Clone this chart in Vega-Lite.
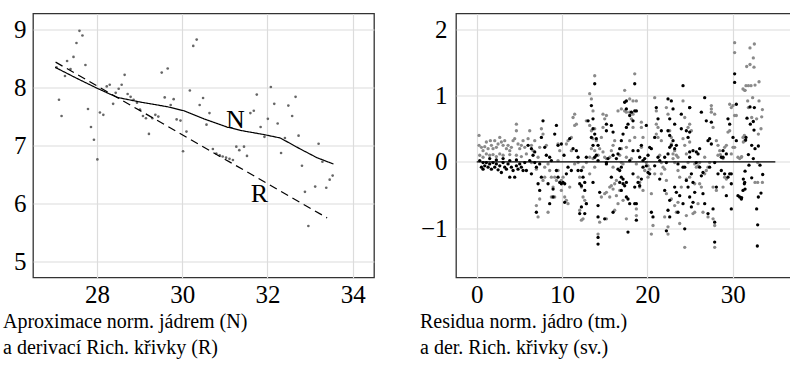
{
"$schema": "https://vega.github.io/schema/vega-lite/v6.json",
"padding": {"left": 2, "top": 12.5, "right": 0, "bottom": 0},
"spacing": 44,
"config": {
 "font": "'Liberation Serif', 'DejaVu Serif', serif",
 "view": {"stroke": "#333333", "strokeWidth": 1.3},
 "axis": {"grid": true, "gridColor": "#dcdcdc", "gridWidth": 1.2, "domain": false, "ticks": false, "labelFont": "'Liberation Serif', 'DejaVu Serif', serif", "labelFontSize": 25, "labelColor": "#000000", "labelFlush": false},
 "axisX": {"labelPadding": 5},
 "axisY": {"labelPadding": 7},
 "title": {"font": "'Liberation Serif', 'DejaVu Serif', serif", "fontSize": 20, "fontWeight": "normal", "color": "#000000", "lineHeight": 26},
 "text": {"font": "'Liberation Serif', 'DejaVu Serif', serif"}
},
"datasets": {
 "pts": [
  {"x":27.05,"y":8.35},{"x":27.11,"y":7.79},{"x":27.17,"y":7.51},{"x":27.25,"y":8.20},{"x":27.30,"y":8.46},{"x":27.38,"y":8.32},{"x":27.45,"y":8.53},{"x":27.52,"y":8.77},{"x":27.59,"y":8.98},{"x":27.66,"y":8.90},{"x":27.73,"y":8.39},{"x":27.79,"y":7.63},{"x":27.86,"y":7.32},{"x":27.93,"y":7.10},{"x":28.01,"y":6.76},{"x":28.07,"y":7.57},{"x":28.15,"y":7.53},{"x":28.23,"y":8.02},{"x":28.30,"y":8.05},{"x":28.38,"y":7.72},{"x":28.44,"y":7.91},{"x":28.51,"y":7.98},{"x":28.58,"y":8.05},{"x":28.65,"y":8.22},{"x":28.72,"y":7.89},{"x":28.79,"y":7.84},{"x":28.86,"y":7.79},{"x":28.94,"y":7.74},{"x":29.01,"y":7.62},{"x":29.08,"y":7.51},{"x":29.15,"y":7.47},{"x":29.22,"y":7.20},{"x":29.30,"y":7.47},{"x":29.37,"y":7.53},{"x":29.44,"y":7.50},{"x":29.52,"y":8.26},{"x":29.59,"y":7.83},{"x":29.66,"y":8.33},{"x":29.73,"y":7.70},{"x":29.80,"y":7.80},{"x":29.87,"y":7.45},{"x":29.96,"y":7.43},{"x":30.02,"y":6.90},{"x":30.10,"y":7.24},{"x":30.18,"y":7.95},{"x":30.26,"y":8.72},{"x":30.34,"y":8.83},{"x":30.41,"y":7.70},{"x":30.49,"y":7.82},{"x":30.57,"y":7.36},{"x":30.64,"y":7.56},{"x":30.72,"y":6.94},{"x":30.80,"y":6.86},{"x":30.88,"y":6.83},{"x":30.95,"y":6.81},{"x":31.03,"y":6.79},{"x":31.11,"y":6.77},{"x":31.19,"y":6.75},{"x":31.27,"y":6.98},{"x":31.34,"y":6.92},{"x":31.45,"y":6.98},{"x":31.52,"y":6.82},{"x":31.60,"y":7.56},{"x":31.68,"y":7.60},{"x":31.75,"y":7.88},{"x":31.84,"y":7.32},{"x":31.93,"y":7.15},{"x":32.01,"y":7.46},{"x":32.08,"y":8.01},{"x":32.16,"y":7.72},{"x":32.24,"y":7.38},{"x":32.32,"y":6.87},{"x":32.41,"y":7.13},{"x":32.49,"y":7.69},{"x":32.58,"y":7.51},{"x":32.66,"y":7.84},{"x":32.73,"y":7.17},{"x":32.81,"y":6.65},{"x":32.88,"y":6.20},{"x":32.96,"y":5.61},{"x":33.12,"y":6.29},{"x":33.20,"y":7.03},{"x":33.29,"y":6.72},{"x":33.38,"y":6.27},{"x":33.46,"y":6.41},{"x":33.53,"y":6.48}
 ],
 "lines": [
  {"x":27.02,"y":8.35,"s":"N"},{"x":27.5,"y":8.17,"s":"N"},{"x":28.0,"y":7.99,"s":"N"},{"x":28.48,"y":7.83,"s":"N"},{"x":29.02,"y":7.75,"s":"N"},{"x":29.65,"y":7.67,"s":"N"},{"x":30.04,"y":7.60,"s":"N"},{"x":30.51,"y":7.46,"s":"N"},{"x":31.05,"y":7.32,"s":"N"},{"x":31.37,"y":7.26,"s":"N"},{"x":31.91,"y":7.19,"s":"N"},{"x":32.30,"y":7.13,"s":"N"},{"x":32.77,"y":6.94,"s":"N"},{"x":33.16,"y":6.79,"s":"N"},{"x":33.55,"y":6.68,"s":"N"},
  {"x":27.03,"y":8.44,"s":"R"},{"x":33.40,"y":5.75,"s":"R"}
 ],
 "labs": [
  {"x":31.25,"y":7.30,"t":"N"},{"x":31.81,"y":6.03,"t":"R"}
 ],
 "zero": [{"x0":0,"x1":35,"y":0}],
 "res": [
  {"x":0.27,"y":0.40,"c":"sv"},{"x":0.27,"y":0.25,"c":"sv"},{"x":0.55,"y":0.22,"c":"sv"},{"x":0.74,"y":0.17,"c":"sv"},{"x":0.94,"y":0.23,"c":"sv"},{"x":1.13,"y":0.30,"c":"sv"},{"x":1.33,"y":0.20,"c":"sv"},{"x":1.60,"y":0.32,"c":"sv"},{"x":1.72,"y":0.25,"c":"sv"},{"x":1.91,"y":0.20,"c":"sv"},{"x":2.11,"y":0.32,"c":"sv"},{"x":2.30,"y":0.22,"c":"sv"},{"x":2.50,"y":0.27,"c":"sv"},{"x":2.70,"y":0.37,"c":"sv"},{"x":2.89,"y":0.30,"c":"sv"},{"x":3.09,"y":0.25,"c":"sv"},{"x":3.28,"y":0.32,"c":"sv"},{"x":3.48,"y":0.20,"c":"sv"},{"x":3.67,"y":0.25,"c":"sv"},{"x":3.87,"y":0.17,"c":"sv"},{"x":4.06,"y":0.22,"c":"sv"},{"x":4.26,"y":0.32,"c":"sv"},{"x":4.45,"y":0.35,"c":"sv"},{"x":4.65,"y":0.57,"c":"sv"},{"x":4.65,"y":0.47,"c":"sv"},{"x":4.84,"y":0.27,"c":"sv"},{"x":5.04,"y":0.20,"c":"sv"},{"x":5.23,"y":0.25,"c":"sv"},{"x":5.43,"y":0.32,"c":"sv"},{"x":5.63,"y":0.22,"c":"sv"},{"x":0.35,"y":0.10,"c":"sv"},{"x":0.74,"y":0.07,"c":"sv"},{"x":1.13,"y":0.12,"c":"sv"},{"x":1.52,"y":0.10,"c":"sv"},{"x":1.91,"y":0.11,"c":"sv"},{"x":2.30,"y":0.08,"c":"sv"},{"x":2.70,"y":0.12,"c":"sv"},{"x":3.09,"y":0.10,"c":"sv"},{"x":3.87,"y":0.11,"c":"sv"},{"x":4.65,"y":0.10,"c":"sv"},{"x":5.23,"y":0.08,"c":"sv"},
  {"x":6.21,"y":0.47,"c":"sv"},{"x":6.02,"y":0.35,"c":"sv"},{"x":6.41,"y":0.25,"c":"sv"},{"x":6.80,"y":0.32,"c":"sv"},{"x":6.60,"y":0.17,"c":"sv"},{"x":7.58,"y":0.50,"c":"sv"},{"x":7.77,"y":0.42,"c":"sv"},{"x":7.38,"y":0.22,"c":"sv"},{"x":7.19,"y":0.07,"c":"sv"},{"x":8.16,"y":0.25,"c":"sv"},{"x":7.97,"y":-0.08,"c":"sv"},{"x":8.36,"y":-0.03,"c":"sv"},{"x":8.55,"y":-0.13,"c":"sv"},{"x":8.75,"y":-0.23,"c":"sv"},{"x":8.95,"y":-0.38,"c":"sv"},{"x":9.14,"y":-0.53,"c":"sv"},{"x":9.34,"y":-0.28,"c":"sv"},{"x":9.53,"y":0.27,"c":"sv"},{"x":9.73,"y":0.17,"c":"sv"},{"x":9.53,"y":-0.13,"c":"sv"},{"x":9.92,"y":-0.43,"c":"sv"},{"x":10.31,"y":-0.53,"c":"sv"},{"x":10.70,"y":-0.63,"c":"sv"},{"x":10.51,"y":0.27,"c":"sv"},{"x":10.70,"y":0.32,"c":"sv"},{"x":11.09,"y":0.37,"c":"sv"},{"x":11.29,"y":0.67,"c":"sv"},{"x":11.48,"y":0.72,"c":"sv"},{"x":11.48,"y":0.55,"c":"sv"},{"x":11.68,"y":0.57,"c":"sv"},{"x":11.09,"y":0.17,"c":"sv"},{"x":11.48,"y":-0.03,"c":"sv"},{"x":11.88,"y":-0.01,"c":"sv"},{"x":12.07,"y":-0.23,"c":"sv"},{"x":12.07,"y":-0.73,"c":"sv"},{"x":6.99,"y":-0.66,"c":"sv"},{"x":7.38,"y":-0.56,"c":"sv"},{"x":7.19,"y":-0.83,"c":"sv"},{"x":8.36,"y":-0.76,"c":"sv"},{"x":8.75,"y":-0.53,"c":"sv"},{"x":7.97,"y":-0.23,"c":"sv"},{"x":9.14,"y":-0.23,"c":"sv"},{"x":9.53,"y":0.02,"c":"sv"},{"x":9.92,"y":-0.28,"c":"sv"},{"x":10.51,"y":-0.58,"c":"sv"},{"x":5.82,"y":0.12,"c":"sv"},{"x":6.41,"y":-0.01,"c":"sv"},{"x":6.99,"y":-0.11,"c":"sv"},{"x":7.77,"y":-0.28,"c":"sv"},{"x":10.12,"y":-0.23,"c":"sv"},{"x":10.90,"y":-0.38,"c":"sv"},
  {"x":13.83,"y":1.30,"c":"sv"},{"x":13.24,"y":1.03,"c":"sv"},{"x":13.44,"y":0.95,"c":"sv"},{"x":13.63,"y":0.77,"c":"sv"},{"x":12.85,"y":0.62,"c":"sv"},{"x":13.24,"y":0.55,"c":"sv"},{"x":13.83,"y":0.50,"c":"sv"},{"x":13.44,"y":0.47,"c":"sv"},{"x":13.63,"y":0.35,"c":"sv"},{"x":14.02,"y":0.32,"c":"sv"},{"x":13.83,"y":0.17,"c":"sv"},{"x":13.44,"y":0.20,"c":"sv"},{"x":13.24,"y":0.07,"c":"sv"},{"x":12.85,"y":-0.01,"c":"sv"},{"x":12.46,"y":-0.08,"c":"sv"},{"x":12.27,"y":-0.38,"c":"sv"},{"x":12.46,"y":-0.53,"c":"sv"},{"x":12.66,"y":-0.58,"c":"sv"},{"x":12.85,"y":-0.63,"c":"sv"},{"x":12.27,"y":-0.88,"c":"sv"},{"x":12.46,"y":-0.86,"c":"sv"},{"x":14.80,"y":0.72,"c":"sv"},{"x":15.00,"y":0.65,"c":"sv"},{"x":15.20,"y":0.70,"c":"sv"},{"x":14.80,"y":0.52,"c":"sv"},{"x":14.61,"y":0.37,"c":"sv"},{"x":14.41,"y":0.20,"c":"sv"},{"x":14.80,"y":0.15,"c":"sv"},{"x":15.00,"y":0.07,"c":"sv"},{"x":15.20,"y":0.05,"c":"sv"},{"x":15.59,"y":0.07,"c":"sv"},{"x":15.78,"y":0.17,"c":"sv"},{"x":15.98,"y":0.25,"c":"sv"},{"x":16.17,"y":0.32,"c":"sv"},{"x":16.56,"y":0.77,"c":"sv"},{"x":16.95,"y":0.80,"c":"sv"},{"x":17.34,"y":0.77,"c":"sv"},{"x":17.54,"y":0.75,"c":"sv"},{"x":17.93,"y":0.75,"c":"sv"},{"x":18.13,"y":0.65,"c":"sv"},{"x":18.32,"y":0.72,"c":"sv"},{"x":17.34,"y":1.08,"c":"sv"},{"x":18.52,"y":1.33,"c":"sv"},{"x":17.93,"y":0.95,"c":"sv"},{"x":18.32,"y":0.92,"c":"sv"},{"x":18.32,"y":0.52,"c":"sv"},{"x":18.52,"y":0.37,"c":"sv"},{"x":17.93,"y":0.32,"c":"sv"},{"x":17.54,"y":0.22,"c":"sv"},{"x":16.95,"y":0.20,"c":"sv"},{"x":16.76,"y":0.10,"c":"sv"},{"x":16.95,"y":-0.01,"c":"sv"},{"x":17.15,"y":-0.03,"c":"sv"},{"x":17.54,"y":0.07,"c":"sv"},{"x":18.13,"y":0.05,"c":"sv"},{"x":15.98,"y":-0.08,"c":"sv"},{"x":15.78,"y":-0.36,"c":"sv"},{"x":15.59,"y":-0.38,"c":"sv"},{"x":16.17,"y":-0.33,"c":"sv"},{"x":16.37,"y":-0.28,"c":"sv"},{"x":15.00,"y":-0.48,"c":"sv"},{"x":14.61,"y":-0.53,"c":"sv"},{"x":15.20,"y":-0.46,"c":"sv"},{"x":15.59,"y":-0.53,"c":"sv"},{"x":16.17,"y":-0.73,"c":"sv"},{"x":16.56,"y":-0.63,"c":"sv"},{"x":17.15,"y":-0.58,"c":"sv"},{"x":17.54,"y":-0.86,"c":"sv"},{"x":15.20,"y":-0.86,"c":"sv"},{"x":14.41,"y":-0.91,"c":"sv"},{"x":14.22,"y":-1.09,"c":"sv"},{"x":15.98,"y":-0.41,"c":"sv"},{"x":16.37,"y":-0.51,"c":"sv"},{"x":16.76,"y":-0.43,"c":"sv"},{"x":14.22,"y":0.10,"c":"sv"},{"x":13.83,"y":-0.08,"c":"sv"},{"x":13.24,"y":-0.18,"c":"sv"},{"x":13.63,"y":0.05,"c":"sv"},
  {"x":18.71,"y":0.92,"c":"sv"},{"x":19.30,"y":0.60,"c":"sv"},{"x":19.30,"y":0.52,"c":"sv"},{"x":19.49,"y":0.37,"c":"sv"},{"x":19.30,"y":0.22,"c":"sv"},{"x":18.71,"y":-0.03,"c":"sv"},{"x":18.91,"y":-0.23,"c":"sv"},{"x":19.10,"y":-0.31,"c":"sv"},{"x":19.49,"y":-0.43,"c":"sv"},{"x":18.71,"y":-0.71,"c":"sv"},{"x":18.71,"y":-0.81,"c":"sv"},{"x":19.10,"y":-0.38,"c":"sv"},{"x":19.88,"y":-0.01,"c":"sv"},{"x":20.08,"y":-0.06,"c":"sv"},{"x":20.27,"y":-0.11,"c":"sv"},{"x":19.69,"y":-0.13,"c":"sv"},{"x":20.08,"y":-0.23,"c":"sv"},{"x":20.47,"y":-0.48,"c":"sv"},{"x":20.66,"y":-0.96,"c":"sv"},{"x":20.47,"y":-1.09,"c":"sv"},{"x":20.86,"y":-0.18,"c":"sv"},{"x":21.05,"y":0.77,"c":"sv"},{"x":21.05,"y":0.57,"c":"sv"},{"x":21.25,"y":0.52,"c":"sv"},{"x":21.05,"y":0.42,"c":"sv"},{"x":21.25,"y":0.37,"c":"sv"},{"x":21.64,"y":0.32,"c":"sv"},{"x":21.45,"y":0.10,"c":"sv"},{"x":21.64,"y":-0.01,"c":"sv"},{"x":21.84,"y":-0.08,"c":"sv"},{"x":21.64,"y":-0.18,"c":"sv"},{"x":22.03,"y":-0.11,"c":"sv"},{"x":22.23,"y":-0.28,"c":"sv"},{"x":22.23,"y":0.82,"c":"sv"},{"x":22.42,"y":0.72,"c":"sv"},{"x":22.62,"y":0.47,"c":"sv"},{"x":22.81,"y":0.37,"c":"sv"},{"x":22.81,"y":0.27,"c":"sv"},{"x":23.01,"y":0.12,"c":"sv"},{"x":23.20,"y":0.17,"c":"sv"},{"x":23.40,"y":0.10,"c":"sv"},{"x":23.01,"y":0.05,"c":"sv"},{"x":23.20,"y":-0.01,"c":"sv"},{"x":23.59,"y":0.07,"c":"sv"},{"x":23.59,"y":-0.13,"c":"sv"},{"x":23.79,"y":-0.23,"c":"sv"},{"x":23.98,"y":-0.38,"c":"sv"},{"x":23.59,"y":-0.61,"c":"sv"},{"x":23.20,"y":-0.66,"c":"sv"},{"x":23.40,"y":-0.76,"c":"sv"},{"x":23.79,"y":-0.93,"c":"sv"},{"x":22.42,"y":-0.98,"c":"sv"},{"x":22.42,"y":-1.09,"c":"sv"},{"x":24.18,"y":0.92,"c":"sv"},{"x":24.38,"y":0.67,"c":"sv"},{"x":24.18,"y":0.35,"c":"sv"},{"x":24.38,"y":0.25,"c":"sv"},{"x":24.57,"y":0.12,"c":"sv"},{"x":24.57,"y":-0.26,"c":"sv"},{"x":24.77,"y":0.52,"c":"sv"},{"x":24.77,"y":-0.01,"c":"sv"},{"x":24.96,"y":0.57,"c":"sv"},{"x":24.96,"y":0.30,"c":"sv"},{"x":24.38,"y":-1.29,"c":"sv"},{"x":24.57,"y":-0.81,"c":"sv"},{"x":22.03,"y":-0.83,"c":"sv"},{"x":22.81,"y":-0.56,"c":"sv"},{"x":22.23,"y":-0.48,"c":"sv"},{"x":20.86,"y":0.97,"c":"sv"},
  {"x":25.16,"y":0.47,"c":"sv"},{"x":25.55,"y":-0.03,"c":"sv"},{"x":25.74,"y":-0.08,"c":"sv"},{"x":25.94,"y":-0.06,"c":"sv"},{"x":26.13,"y":-0.33,"c":"sv"},{"x":26.33,"y":-0.38,"c":"sv"},{"x":26.72,"y":-0.18,"c":"sv"},{"x":26.91,"y":-0.13,"c":"sv"},{"x":27.11,"y":-0.08,"c":"sv"},{"x":27.30,"y":-0.01,"c":"sv"},{"x":27.50,"y":0.80,"c":"sv"},{"x":27.50,"y":0.85,"c":"sv"},{"x":27.50,"y":0.75,"c":"sv"},{"x":27.70,"y":0.52,"c":"sv"},{"x":27.89,"y":0.72,"c":"sv"},{"x":28.09,"y":0.32,"c":"sv"},{"x":28.28,"y":0.25,"c":"sv"},{"x":28.48,"y":0.17,"c":"sv"},{"x":28.28,"y":0.10,"c":"sv"},{"x":28.55,"y":0.11,"c":"sv"},{"x":28.87,"y":0.05,"c":"sv"},{"x":29.06,"y":0.22,"c":"sv"},{"x":29.26,"y":0.25,"c":"sv"},{"x":29.45,"y":0.45,"c":"sv"},{"x":29.65,"y":0.47,"c":"sv"},{"x":29.65,"y":0.87,"c":"sv"},{"x":29.84,"y":0.82,"c":"sv"},{"x":30.04,"y":0.85,"c":"sv"},{"x":30.23,"y":0.70,"c":"sv"},{"x":30.23,"y":1.80,"c":"sv"},{"x":30.23,"y":1.65,"c":"sv"},{"x":30.43,"y":0.70,"c":"sv"},{"x":29.84,"y":0.12,"c":"sv"},{"x":30.04,"y":0.22,"c":"sv"},{"x":30.23,"y":0.22,"c":"sv"},{"x":30.62,"y":0.07,"c":"sv"},{"x":30.82,"y":0.05,"c":"sv"},{"x":31.02,"y":0.07,"c":"sv"},{"x":31.21,"y":0.37,"c":"sv"},{"x":31.41,"y":0.32,"c":"sv"},{"x":31.21,"y":1.10,"c":"sv"},{"x":31.41,"y":1.08,"c":"sv"},{"x":25.35,"y":-0.78,"c":"sv"},{"x":25.55,"y":-0.76,"c":"sv"},{"x":25.94,"y":-0.63,"c":"sv"},{"x":26.52,"y":-0.76,"c":"sv"},{"x":27.11,"y":-0.83,"c":"sv"},{"x":27.70,"y":-0.86,"c":"sv"},{"x":27.89,"y":-0.96,"c":"sv"},{"x":27.70,"y":-0.38,"c":"sv"},{"x":28.09,"y":-0.43,"c":"sv"},{"x":28.87,"y":-0.38,"c":"sv"},{"x":29.06,"y":-0.23,"c":"sv"},{"x":29.26,"y":-0.26,"c":"sv"},{"x":26.72,"y":0.07,"c":"sv"},{"x":25.55,"y":-0.33,"c":"sv"},{"x":24.96,"y":-0.23,"c":"sv"},{"x":26.13,"y":-0.01,"c":"sv"},{"x":27.89,"y":-1.29,"c":"sv"},
  {"x":32.54,"y":1.78,"c":"sv"},{"x":32.03,"y":1.72,"c":"sv"},{"x":32.42,"y":1.57,"c":"sv"},{"x":31.64,"y":1.44,"c":"sv"},{"x":32.03,"y":1.47,"c":"sv"},{"x":32.50,"y":1.43,"c":"sv"},{"x":31.56,"y":1.15,"c":"sv"},{"x":31.84,"y":1.15,"c":"sv"},{"x":32.15,"y":1.15,"c":"sv"},{"x":32.62,"y":1.16,"c":"sv"},{"x":33.09,"y":1.21,"c":"sv"},{"x":31.45,"y":1.08,"c":"sv"},{"x":31.76,"y":0.92,"c":"sv"},{"x":33.09,"y":0.92,"c":"sv"},{"x":32.34,"y":0.97,"c":"sv"},{"x":33.48,"y":0.79,"c":"sv"},{"x":31.84,"y":0.82,"c":"sv"},{"x":32.23,"y":0.67,"c":"sv"},{"x":32.81,"y":0.65,"c":"sv"},{"x":33.40,"y":0.68,"c":"sv"},{"x":33.32,"y":0.50,"c":"sv"},{"x":33.01,"y":0.42,"c":"sv"},{"x":31.37,"y":0.40,"c":"sv"},{"x":31.25,"y":0.30,"c":"sv"},{"x":31.45,"y":0.32,"c":"sv"},{"x":31.05,"y":0.08,"c":"sv"},{"x":32.62,"y":-0.31,"c":"sv"},{"x":32.93,"y":-0.31,"c":"sv"},{"x":33.48,"y":-0.31,"c":"sv"},{"x":32.93,"y":-0.01,"c":"sv"},
  {"x":0.35,"y":0.02,"c":"tm"},{"x":0.55,"y":-0.08,"c":"tm"},{"x":0.74,"y":-0.11,"c":"tm"},{"x":0.94,"y":-0.06,"c":"tm"},{"x":1.13,"y":-0.01,"c":"tm"},{"x":1.33,"y":-0.08,"c":"tm"},{"x":1.52,"y":-0.03,"c":"tm"},{"x":1.72,"y":-0.11,"c":"tm"},{"x":1.91,"y":-0.01,"c":"tm"},{"x":2.11,"y":-0.08,"c":"tm"},{"x":2.30,"y":-0.03,"c":"tm"},{"x":2.50,"y":-0.12,"c":"tm"},{"x":2.70,"y":-0.06,"c":"tm"},{"x":2.89,"y":-0.16,"c":"tm"},{"x":3.09,"y":-0.01,"c":"tm"},{"x":3.28,"y":-0.08,"c":"tm"},{"x":3.48,"y":-0.11,"c":"tm"},{"x":3.67,"y":-0.03,"c":"tm"},{"x":3.87,"y":-0.23,"c":"tm"},{"x":4.06,"y":-0.08,"c":"tm"},{"x":4.26,"y":-0.13,"c":"tm"},{"x":4.45,"y":-0.23,"c":"tm"},{"x":4.65,"y":-0.06,"c":"tm"},{"x":4.84,"y":-0.11,"c":"tm"},{"x":5.04,"y":-0.03,"c":"tm"},{"x":5.23,"y":-0.08,"c":"tm"},{"x":5.43,"y":-0.13,"c":"tm"},{"x":5.63,"y":-0.01,"c":"tm"},{"x":0.74,"y":-0.01,"c":"tm"},{"x":1.52,"y":0.05,"c":"tm"},{"x":2.30,"y":0.03,"c":"tm"},{"x":3.09,"y":0.05,"c":"tm"},{"x":3.87,"y":0.02,"c":"tm"},{"x":4.65,"y":0.03,"c":"tm"},
  {"x":7.77,"y":0.62,"c":"tm"},{"x":9.34,"y":0.55,"c":"tm"},{"x":7.58,"y":0.37,"c":"tm"},{"x":9.14,"y":0.42,"c":"tm"},{"x":6.02,"y":0.25,"c":"tm"},{"x":6.41,"y":0.20,"c":"tm"},{"x":6.60,"y":0.10,"c":"tm"},{"x":6.21,"y":0.02,"c":"tm"},{"x":6.80,"y":-0.01,"c":"tm"},{"x":6.41,"y":-0.18,"c":"tm"},{"x":5.82,"y":-0.13,"c":"tm"},{"x":6.99,"y":-0.08,"c":"tm"},{"x":7.38,"y":-0.03,"c":"tm"},{"x":7.58,"y":-0.23,"c":"tm"},{"x":7.19,"y":-0.33,"c":"tm"},{"x":7.38,"y":-0.43,"c":"tm"},{"x":6.99,"y":-0.76,"c":"tm"},{"x":8.16,"y":0.10,"c":"tm"},{"x":8.55,"y":0.07,"c":"tm"},{"x":8.75,"y":0.02,"c":"tm"},{"x":8.36,"y":-0.33,"c":"tm"},{"x":8.95,"y":-0.41,"c":"tm"},{"x":9.34,"y":-0.13,"c":"tm"},{"x":9.53,"y":-0.23,"c":"tm"},{"x":9.73,"y":-0.31,"c":"tm"},{"x":9.92,"y":-0.33,"c":"tm"},{"x":10.12,"y":-0.31,"c":"tm"},{"x":10.31,"y":-0.33,"c":"tm"},{"x":10.51,"y":-0.18,"c":"tm"},{"x":10.23,"y":0.10,"c":"tm"},{"x":10.70,"y":-0.08,"c":"tm"},{"x":11.09,"y":-0.13,"c":"tm"},{"x":10.90,"y":0.35,"c":"tm"},{"x":11.29,"y":0.20,"c":"tm"},{"x":11.68,"y":0.17,"c":"tm"},{"x":11.88,"y":0.07,"c":"tm"},{"x":11.88,"y":-0.13,"c":"tm"},{"x":12.07,"y":-0.33,"c":"tm"},{"x":8.55,"y":-0.63,"c":"tm"},{"x":8.95,"y":-0.53,"c":"tm"},{"x":10.31,"y":-0.61,"c":"tm"},{"x":9.92,"y":0.27,"c":"tm"},{"x":9.53,"y":0.25,"c":"tm"},{"x":7.97,"y":0.22,"c":"tm"},{"x":6.80,"y":0.15,"c":"tm"},
  {"x":13.83,"y":1.18,"c":"tm"},{"x":13.44,"y":0.85,"c":"tm"},{"x":13.63,"y":0.65,"c":"tm"},{"x":13.05,"y":0.62,"c":"tm"},{"x":13.63,"y":0.50,"c":"tm"},{"x":13.83,"y":0.42,"c":"tm"},{"x":14.02,"y":0.35,"c":"tm"},{"x":13.44,"y":0.37,"c":"tm"},{"x":14.22,"y":0.25,"c":"tm"},{"x":13.63,"y":0.25,"c":"tm"},{"x":14.02,"y":0.10,"c":"tm"},{"x":13.83,"y":0.07,"c":"tm"},{"x":14.22,"y":0.02,"c":"tm"},{"x":12.85,"y":0.07,"c":"tm"},{"x":12.27,"y":-0.13,"c":"tm"},{"x":12.46,"y":-0.23,"c":"tm"},{"x":12.66,"y":-0.31,"c":"tm"},{"x":12.27,"y":-0.36,"c":"tm"},{"x":12.66,"y":-0.43,"c":"tm"},{"x":12.85,"y":-0.63,"c":"tm"},{"x":12.27,"y":-0.68,"c":"tm"},{"x":12.66,"y":-0.78,"c":"tm"},{"x":12.07,"y":-0.78,"c":"tm"},{"x":14.22,"y":-0.66,"c":"tm"},{"x":14.22,"y":-0.83,"c":"tm"},{"x":15.00,"y":-0.86,"c":"tm"},{"x":14.41,"y":-0.46,"c":"tm"},{"x":13.63,"y":-0.31,"c":"tm"},{"x":15.78,"y":-0.23,"c":"tm"},{"x":15.20,"y":-0.01,"c":"tm"},{"x":15.39,"y":0.05,"c":"tm"},{"x":15.98,"y":0.10,"c":"tm"},{"x":16.37,"y":0.05,"c":"tm"},{"x":16.56,"y":0.12,"c":"tm"},{"x":16.76,"y":0.20,"c":"tm"},{"x":16.95,"y":0.32,"c":"tm"},{"x":17.15,"y":0.42,"c":"tm"},{"x":17.54,"y":0.52,"c":"tm"},{"x":17.73,"y":0.57,"c":"tm"},{"x":17.93,"y":0.70,"c":"tm"},{"x":18.13,"y":0.75,"c":"tm"},{"x":17.34,"y":0.90,"c":"tm"},{"x":17.54,"y":0.92,"c":"tm"},{"x":17.54,"y":0.80,"c":"tm"},{"x":18.32,"y":0.62,"c":"tm"},{"x":18.52,"y":0.77,"c":"tm"},{"x":18.52,"y":1.18,"c":"tm"},{"x":16.76,"y":-0.13,"c":"tm"},{"x":16.95,"y":-0.23,"c":"tm"},{"x":17.15,"y":-0.26,"c":"tm"},{"x":17.15,"y":-0.33,"c":"tm"},{"x":16.76,"y":-0.31,"c":"tm"},{"x":17.34,"y":-0.36,"c":"tm"},{"x":16.95,"y":-0.43,"c":"tm"},{"x":17.73,"y":-0.56,"c":"tm"},{"x":17.93,"y":-0.63,"c":"tm"},{"x":18.32,"y":-0.18,"c":"tm"},{"x":18.52,"y":-0.38,"c":"tm"},{"x":15.20,"y":-0.03,"c":"tm"},{"x":15.98,"y":-0.76,"c":"tm"},{"x":17.73,"y":-1.06,"c":"tm"},{"x":14.22,"y":-1.14,"c":"tm"},{"x":14.22,"y":-1.24,"c":"tm"},{"x":17.54,"y":-0.53,"c":"tm"},{"x":16.56,"y":-0.11,"c":"tm"},{"x":16.95,"y":-0.08,"c":"tm"},{"x":18.52,"y":-0.63,"c":"tm"},{"x":17.54,"y":-0.31,"c":"tm"},{"x":17.93,"y":0.02,"c":"tm"},{"x":18.32,"y":0.17,"c":"tm"},{"x":15.98,"y":0.45,"c":"tm"},{"x":15.20,"y":0.47,"c":"tm"},{"x":15.78,"y":0.55,"c":"tm"},{"x":15.20,"y":0.57,"c":"tm"},
  {"x":18.71,"y":0.77,"c":"tm"},{"x":19.88,"y":0.55,"c":"tm"},{"x":19.30,"y":0.25,"c":"tm"},{"x":18.91,"y":0.17,"c":"tm"},{"x":19.10,"y":0.07,"c":"tm"},{"x":19.49,"y":0.02,"c":"tm"},{"x":19.69,"y":0.05,"c":"tm"},{"x":19.88,"y":-0.06,"c":"tm"},{"x":20.08,"y":0.10,"c":"tm"},{"x":20.27,"y":0.22,"c":"tm"},{"x":20.47,"y":0.20,"c":"tm"},{"x":20.08,"y":-0.16,"c":"tm"},{"x":19.49,"y":-0.08,"c":"tm"},{"x":20.27,"y":-0.18,"c":"tm"},{"x":19.30,"y":-0.26,"c":"tm"},{"x":18.91,"y":-0.31,"c":"tm"},{"x":19.10,"y":-0.36,"c":"tm"},{"x":18.71,"y":-0.63,"c":"tm"},{"x":18.71,"y":-0.88,"c":"tm"},{"x":20.47,"y":-0.76,"c":"tm"},{"x":20.66,"y":-0.83,"c":"tm"},{"x":20.86,"y":-0.06,"c":"tm"},{"x":21.25,"y":0.07,"c":"tm"},{"x":21.45,"y":0.02,"c":"tm"},{"x":22.03,"y":0.07,"c":"tm"},{"x":22.23,"y":-0.01,"c":"tm"},{"x":22.42,"y":0.12,"c":"tm"},{"x":22.62,"y":0.22,"c":"tm"},{"x":22.81,"y":0.25,"c":"tm"},{"x":23.01,"y":0.32,"c":"tm"},{"x":23.20,"y":0.20,"c":"tm"},{"x":23.40,"y":0.25,"c":"tm"},{"x":22.42,"y":0.47,"c":"tm"},{"x":22.62,"y":0.40,"c":"tm"},{"x":22.42,"y":0.95,"c":"tm"},{"x":22.81,"y":0.92,"c":"tm"},{"x":23.01,"y":0.80,"c":"tm"},{"x":22.62,"y":0.65,"c":"tm"},{"x":23.20,"y":0.57,"c":"tm"},{"x":21.05,"y":0.82,"c":"tm"},{"x":21.25,"y":0.65,"c":"tm"},{"x":20.86,"y":0.37,"c":"tm"},{"x":21.64,"y":0.47,"c":"tm"},{"x":23.98,"y":0.72,"c":"tm"},{"x":23.98,"y":0.50,"c":"tm"},{"x":24.18,"y":1.15,"c":"tm"},{"x":24.57,"y":0.47,"c":"tm"},{"x":24.77,"y":0.37,"c":"tm"},{"x":24.96,"y":0.82,"c":"tm"},{"x":23.59,"y":-0.03,"c":"tm"},{"x":24.18,"y":-0.08,"c":"tm"},{"x":23.20,"y":-0.38,"c":"tm"},{"x":23.40,"y":-0.46,"c":"tm"},{"x":23.79,"y":-0.51,"c":"tm"},{"x":22.62,"y":-0.58,"c":"tm"},{"x":22.42,"y":-0.73,"c":"tm"},{"x":22.62,"y":-0.83,"c":"tm"},{"x":22.23,"y":-1.04,"c":"tm"},{"x":24.18,"y":-0.63,"c":"tm"},{"x":23.59,"y":-0.76,"c":"tm"},{"x":24.38,"y":-1.01,"c":"tm"},{"x":24.77,"y":-0.38,"c":"tm"},{"x":24.57,"y":-0.28,"c":"tm"},{"x":22.03,"y":-0.43,"c":"tm"},{"x":24.96,"y":0.15,"c":"tm"},{"x":24.38,"y":-0.08,"c":"tm"},{"x":21.45,"y":-0.26,"c":"tm"},
  {"x":24.96,"y":0.45,"c":"tm"},{"x":24.96,"y":0.07,"c":"tm"},{"x":25.16,"y":-0.18,"c":"tm"},{"x":24.96,"y":-0.53,"c":"tm"},{"x":25.35,"y":-0.31,"c":"tm"},{"x":25.55,"y":-0.46,"c":"tm"},{"x":25.35,"y":-0.61,"c":"tm"},{"x":25.16,"y":-0.68,"c":"tm"},{"x":25.74,"y":-0.01,"c":"tm"},{"x":25.94,"y":0.12,"c":"tm"},{"x":25.74,"y":0.15,"c":"tm"},{"x":26.13,"y":-0.08,"c":"tm"},{"x":26.33,"y":-0.21,"c":"tm"},{"x":26.52,"y":-0.16,"c":"tm"},{"x":26.33,"y":0.75,"c":"tm"},{"x":26.72,"y":0.97,"c":"tm"},{"x":26.91,"y":0.62,"c":"tm"},{"x":27.11,"y":0.32,"c":"tm"},{"x":27.30,"y":0.35,"c":"tm"},{"x":27.50,"y":0.60,"c":"tm"},{"x":27.50,"y":0.27,"c":"tm"},{"x":26.52,"y":-0.48,"c":"tm"},{"x":26.72,"y":-0.63,"c":"tm"},{"x":27.11,"y":-0.78,"c":"tm"},{"x":27.70,"y":-0.71,"c":"tm"},{"x":27.89,"y":-0.91,"c":"tm"},{"x":28.09,"y":-0.38,"c":"tm"},{"x":27.30,"y":-0.08,"c":"tm"},{"x":27.89,"y":-0.01,"c":"tm"},{"x":28.28,"y":-0.18,"c":"tm"},{"x":28.67,"y":-0.13,"c":"tm"},{"x":28.87,"y":0.07,"c":"tm"},{"x":29.26,"y":0.12,"c":"tm"},{"x":29.06,"y":-0.18,"c":"tm"},{"x":29.45,"y":-0.23,"c":"tm"},{"x":29.65,"y":-0.18,"c":"tm"},{"x":29.84,"y":-0.18,"c":"tm"},{"x":29.84,"y":-0.33,"c":"tm"},{"x":29.26,"y":-0.51,"c":"tm"},{"x":29.45,"y":0.65,"c":"tm"},{"x":29.65,"y":0.57,"c":"tm"},{"x":30.04,"y":0.37,"c":"tm"},{"x":30.23,"y":1.33,"c":"tm"},{"x":30.23,"y":1.20,"c":"tm"},{"x":30.43,"y":0.87,"c":"tm"},{"x":30.43,"y":0.32,"c":"tm"},{"x":30.62,"y":-0.51,"c":"tm"},{"x":30.82,"y":-0.53,"c":"tm"},{"x":31.02,"y":-0.56,"c":"tm"},{"x":31.21,"y":-0.43,"c":"tm"},{"x":31.41,"y":-0.31,"c":"tm"},{"x":29.84,"y":-0.71,"c":"tm"},{"x":27.89,"y":-1.21,"c":"tm"},{"x":25.35,"y":0.17,"c":"tm"},{"x":26.13,"y":0.20,"c":"tm"},{"x":28.67,"y":0.07,"c":"tm"},{"x":28.87,"y":0.17,"c":"tm"},{"x":24.96,"y":0.82,"c":"tm"},
  {"x":32.03,"y":0.83,"c":"tm"},{"x":32.54,"y":0.82,"c":"tm"},{"x":31.68,"y":0.66,"c":"tm"},{"x":32.07,"y":0.57,"c":"tm"},{"x":32.42,"y":0.61,"c":"tm"},{"x":32.50,"y":0.48,"c":"tm"},{"x":31.56,"y":0.37,"c":"tm"},{"x":31.52,"y":0.33,"c":"tm"},{"x":32.23,"y":0.25,"c":"tm"},{"x":32.62,"y":0.20,"c":"tm"},{"x":33.01,"y":0.24,"c":"tm"},{"x":31.84,"y":0.11,"c":"tm"},{"x":32.42,"y":0.05,"c":"tm"},{"x":31.91,"y":-0.05,"c":"tm"},{"x":33.20,"y":-0.05,"c":"tm"},{"x":31.45,"y":-0.14,"c":"tm"},{"x":31.25,"y":-0.26,"c":"tm"},{"x":31.37,"y":-0.33,"c":"tm"},{"x":32.23,"y":-0.24,"c":"tm"},{"x":33.52,"y":-0.19,"c":"tm"},{"x":31.45,"y":-0.41,"c":"tm"},{"x":31.05,"y":-0.54,"c":"tm"},{"x":33.32,"y":-0.47,"c":"tm"},{"x":33.01,"y":-0.53,"c":"tm"},{"x":32.81,"y":-0.71,"c":"tm"},{"x":32.93,"y":-0.95,"c":"tm"},{"x":32.89,"y":-1.27,"c":"tm"}
 ]
},
"hconcat": [
 {
  "width": 341, "height": 264,
  "title": {"text": ["Aproximace norm. jádrem (N)", "a derivací Rich. křivky (R)"], "orient": "bottom", "anchor": "start", "frame": "group", "dx": -30, "offset": 4},
  "layer": [
   {"data": {"name": "pts"}, "mark": {"type": "circle", "size": 7, "color": "#666666", "opacity": 1},
    "encoding": {
     "x": {"field": "x", "type": "quantitative", "title": null, "scale": {"domain": [26.5, 34.5], "nice": false, "zero": false}, "axis": {"values": [28, 30, 32, 34], "format": "d"}},
     "y": {"field": "y", "type": "quantitative", "title": null, "scale": {"domain": [4.72, 9.28], "nice": false, "zero": false}, "axis": {"values": [5, 6, 7, 8, 9], "format": "d"}}
    }},
   {"data": {"name": "lines"}, "mark": {"type": "line", "color": "#000000", "strokeWidth": 1.2},
    "encoding": {
     "x": {"field": "x", "type": "quantitative"},
     "y": {"field": "y", "type": "quantitative"},
     "detail": {"field": "s"},
     "strokeDash": {"field": "s", "type": "nominal", "scale": {"domain": ["N", "R"], "range": [[1, 0], [8, 5]]}, "legend": null}
    }},
   {"data": {"name": "labs"}, "mark": {"type": "text", "fontSize": 26, "align": "center", "baseline": "alphabetic", "color": "#000000", "font": "'Liberation Serif', 'DejaVu Serif', serif"},
    "encoding": {
     "x": {"field": "x", "type": "quantitative"},
     "y": {"field": "y", "type": "quantitative"},
     "text": {"field": "t"}
    }}
  ]
 },
 {
  "width": 341, "height": 264,
  "title": {"text": ["Residua norm. jádro (tm.)", "a der. Rich. křivky (sv.)"], "orient": "bottom", "anchor": "start", "frame": "group", "dx": -36, "offset": 4},
  "layer": [
   {"data": {"name": "res"}, "mark": {"type": "circle", "size": 11, "opacity": 1},
    "encoding": {
     "x": {"field": "x", "type": "quantitative", "title": null, "scale": {"domain": [-2.43, 37.54], "nice": false, "zero": false}, "axis": {"values": [0, 10, 20, 30], "format": "d"}},
     "y": {"field": "y", "type": "quantitative", "title": null, "scale": {"domain": [-1.745, 2.24], "nice": false, "zero": false}, "axis": {"values": [-1, 0, 1, 2], "format": "d", "labelPadding": 9}},
     "color": {"field": "c", "type": "nominal", "scale": {"domain": ["tm", "sv"], "range": ["#000000", "#8a8a8a"]}, "legend": null}
    }},
   {"data": {"name": "zero"}, "mark": {"type": "rule", "color": "#000000", "strokeWidth": 1.2},
    "encoding": {
     "x": {"field": "x0", "type": "quantitative"},
     "x2": {"field": "x1"},
     "y": {"field": "y", "type": "quantitative"}
    }}
  ]
 }
]
}
